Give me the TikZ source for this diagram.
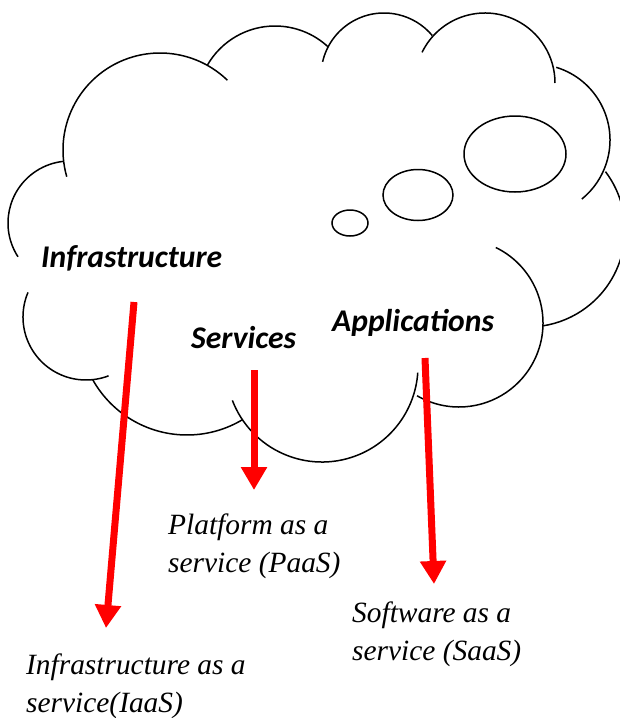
\documentclass[tikz,border=0pt]{standalone}
\usepackage{fontspec}
\setmainfont{Liberation Serif}
\newfontfamily\cloudfont{Carlito}
\usetikzlibrary{arrows.meta}

\begin{document}
\begin{tikzpicture}[x=1pt, y=-1pt,
  cloudline/.style={draw=black, line width=1.5pt},
  cloudlabel/.style={font=\cloudfont\bfseries\itshape\fontsize{31.6}{36}\selectfont, inner sep=0pt, anchor=base west},
  servlabel/.style={font=\itshape\fontsize{29.4}{38}\selectfont, align=left, inner sep=0pt, anchor=north west},
  redarrow/.style={draw=red, line width=7pt, -{Triangle[length=23pt, width=25pt]}}]
\useasboundingbox (0,0) rectangle (620,718);
% cloud outline, one arc per lobe
\foreach \cx/\cy/\r/\a/\b in {160/150/97/164/314, 275/104/78/210/313, 384/76/63/193/320,
    485/83/70/206/360, 534/140/76/287/411, 528/230/97/323/441, 459/323/84/296/480,
    322/366/96/159/4, 187/327/108/59/151, 86/317/63/203/69, 70/223/62/147/264}
  \draw[cloudline] ([shift={(\cx,\cy)}]\a:\r) arc[start angle=\a, end angle=\b, radius=\r];
% thought bubbles
\draw[cloudline] (515,154) ellipse[x radius=51, y radius=38];
\draw[cloudline] (418,195) ellipse[x radius=35, y radius=25.5];
\draw[cloudline] (350,223) ellipse[x radius=18, y radius=13];

\node[cloudlabel] (infra) at (41,267) {Infrastructure};
\node[cloudlabel] (serv) at (191,348) {Services};
\node[cloudlabel] (apps) at (332,331) {Applications};

\node[servlabel] (paas) at (168,514) {Platform as a\\service (PaaS)};
\node[servlabel] (saas) at (352,602) {Software as a\\service (SaaS)};
\node[servlabel] (iaas) at (26,654) {Infrastructure as a\\service(IaaS)};

\coordinate (i1) at (134,302);
\coordinate (i2) at (106,628);
\coordinate (p1) at (254,370);
\coordinate (p2) at (254,490);
\coordinate (s1) at (425,358);
\coordinate (s2) at (434,584);
\draw[redarrow] (i1) -- (i2);
\draw[redarrow] (p1) -- (p2);
\draw[redarrow] (s1) -- (s2);
\end{tikzpicture}
\end{document}
